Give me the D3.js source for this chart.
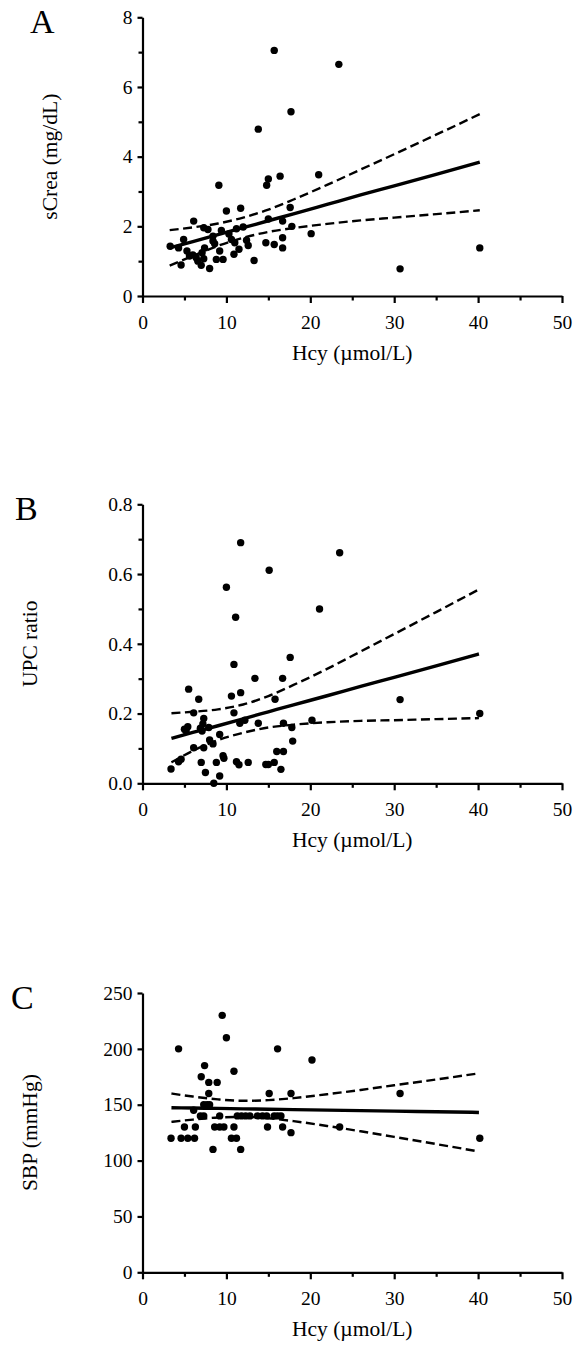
<!DOCTYPE html>
<html><head><meta charset="utf-8">
<script src="https://cdn.jsdelivr.net/npm/d3@7"></script>
<style>
body{margin:0;background:#fff}
svg{display:block}
text{font-family:"Liberation Serif","Times New Roman",serif;fill:#000}
</style>
</head><body>
<svg id="c" width="576" height="1345"></svg>
<script>
// ---------- shared x axis ----------
const xTicks = [0, 10, 20, 30, 40, 50];
const xMinorTicks = [5, 15, 25, 35, 45];
const xTitle = "Hcy (\u00b5mol/L)";

// ---------- Panel A: sCrea ----------
const hcyA = [15.7,23.4,17.7,13.8,9.1,15.0,14.8,16.4,21.0,10.0,11.7,17.6,6.1,7.3,7.8,15.0,16.7,17.8,20.1,11.2,12.0,9.4,3.3,4.3,4.9,8.4,10.6,11.0,12.6,14.7,15.7,16.7,16.7,5.3,5.6,6.4,7.1,7.3,6.6,7.0,8.0,4.6,8.8,9.6,9.2,10.9,13.3,30.7,40.2,8.4,7.4,11.5,6.0,8.6,10.3,12.4];
const scrA = [7.05,6.65,5.29,4.79,3.18,3.36,3.18,3.44,3.48,2.44,2.52,2.54,2.15,1.96,1.91,2.21,2.15,2.00,1.79,1.93,1.98,1.88,1.43,1.38,1.62,1.58,1.62,1.53,1.45,1.53,1.48,1.67,1.38,1.29,1.15,1.10,1.24,1.07,1.00,0.88,0.79,0.89,1.05,1.05,1.29,1.20,1.02,0.78,1.38,1.72,1.38,1.34,1.18,1.50,1.78,1.60];
const yTicksA = [0, 2, 4, 6, 8];
const yMinorA = [1, 3, 5, 7];
const bandXA = [3.24, 6, 9, 12, 15, 18, 22, 26, 30, 35, 40.2];
const fitA   = [1.38, 1.56, 1.76, 1.96, 2.16, 2.36, 2.63, 2.90, 3.16, 3.49, 3.84];
const upA    = [1.89, 1.97, 2.08, 2.25, 2.48, 2.77, 3.19, 3.63, 4.07, 4.63, 5.22];
const loA    = [0.87, 1.15, 1.44, 1.67, 1.84, 1.95, 2.07, 2.17, 2.25, 2.35, 2.46];

// ---------- Panel B: UPC ratio ----------
const hcyB = [11.7,23.5,15.1,10.0,11.1,21.1,10.9,17.6,13.4,16.7,5.5,6.7,10.6,11.7,15.8,6.1,10.9,7.3,5.0,5.4,6.9,7.9,7.2,11.6,12.2,13.8,16.8,17.8,20.2,8.0,8.4,9.2,6.1,7.3,9.6,9.7,4.6,4.3,3.4,7.0,7.5,8.8,8.5,9.2,11.2,11.5,12.6,14.7,15.0,15.7,16.0,16.8,16.5,17.9,30.7,40.2,7.1,5.2];
const upcB = [0.690,0.661,0.611,0.562,0.476,0.500,0.341,0.361,0.301,0.301,0.270,0.241,0.250,0.260,0.241,0.202,0.202,0.186,0.155,0.162,0.158,0.160,0.170,0.172,0.181,0.172,0.172,0.160,0.181,0.124,0.113,0.140,0.102,0.102,0.079,0.072,0.069,0.062,0.041,0.060,0.031,0.060,0.000,0.021,0.062,0.053,0.060,0.054,0.054,0.060,0.091,0.091,0.040,0.121,0.240,0.200,0.150,0.150];
const yTicksB = [0, 0.2, 0.4, 0.6, 0.8];
const yMinorB = [0.1, 0.3, 0.5, 0.7];
const bandXB = [3.45, 6, 9, 12, 15, 18, 22, 26, 30, 35, 40.1];
const fitB   = [0.129, 0.146, 0.165, 0.185, 0.205, 0.225, 0.251, 0.278, 0.304, 0.337, 0.371];
const upB    = [0.201, 0.205, 0.212, 0.226, 0.250, 0.282, 0.328, 0.378, 0.428, 0.491, 0.556];
const loB    = [0.060, 0.093, 0.124, 0.145, 0.160, 0.168, 0.175, 0.179, 0.181, 0.184, 0.187];

// ---------- Panel C: SBP ----------
const hcyC = [9.5,10.0,4.3,16.1,20.2,7.4,10.9,7.0,7.9,8.9,7.9,15.1,17.7,30.7,7.3,7.7,8.0,6.1,6.9,7.3,9.2,11.3,11.8,12.3,12.8,13.7,14.3,14.8,15.7,16.1,16.5,5.0,6.3,8.6,9.2,9.7,10.9,14.9,16.7,23.5,17.7,3.4,4.6,5.4,6.2,10.6,11.2,40.2,8.4,11.7];
const sbpC = [230,210,200,200,190,185,180,175,170,170,160,160,160,160,150,150,150,145,140,140,140,140,140,140,140,140,140,140,140,140,140,130,130,130,130,130,130,130,130,130,125,120,120,120,120,120,120,120,110,110];
const yTicksC = [0, 50, 100, 150, 200, 250];
const yMinorC = [];
const bandXC = [3.45, 6, 9, 12, 15, 18, 22, 26, 30, 35, 40.1];
const fitC   = [147.3, 147.0, 146.7, 146.3, 146.0, 145.6, 145.2, 144.7, 144.3, 143.7, 143.1];
const upC    = [160.0, 157.3, 154.8, 153.5, 154.1, 155.9, 159.4, 163.2, 167.4, 172.6, 178.1];
const loC    = [134.6, 136.7, 138.6, 139.1, 137.9, 135.3, 131.0, 126.2, 121.2, 114.8, 108.1];

// ---------- layout ----------
const svg = d3.select("#c");
const X0 = 142.5, X1 = 562;
const FONT = "Liberation Serif, Times New Roman, serif";

const panels = [
  {letter:"A", ylab:"sCrea (mg/dL)", xs:hcyA, ys:scrA, ymax:8, ticks:yTicksA, minor:yMinorA, fmt:d3.format("d"),
   bx:bandXA, fit:fitA, up:upA, lo:loA, top:17.3, bottom:296, letterX:30, ylabX:57},
  {letter:"B", ylab:"UPC ratio", xs:hcyB, ys:upcB, ymax:0.8, ticks:yTicksB, minor:yMinorB, fmt:d3.format(".1f"),
   bx:bandXB, fit:fitB, up:upB, lo:loB, top:504.3, bottom:783.3, letterX:15, ylabX:37},
  {letter:"C", ylab:"SBP (mmHg)", xs:hcyC, ys:sbpC, ymax:250, ticks:yTicksC, minor:yMinorC, fmt:d3.format("d"),
   bx:bandXC, fit:fitC, up:upC, lo:loC, top:993, bottom:1272.3, letterX:11, ylabX:37}
];

panels.forEach(p => {
  const x = d3.scaleLinear().domain([0, 50]).range([X0, X1]);
  const y = d3.scaleLinear().domain([0, p.ymax]).range([p.bottom, p.top]);
  const g = svg.append("g");

  // x axis
  const xa = g.append("g").attr("transform", `translate(0,${p.bottom})`)
    .call(d3.axisBottom(x).tickValues(xTicks).tickSize(7).tickSizeOuter(0).tickPadding(12).tickFormat(d3.format("d")));
  g.append("g").attr("transform", `translate(0,${p.bottom})`)
    .call(d3.axisBottom(x).tickValues(xMinorTicks).tickSize(4.5).tickSizeOuter(0).tickFormat(""))
    .select(".domain").remove();

  // y axis
  g.append("g").attr("transform", `translate(${X0},0)`)
    .call(d3.axisLeft(y).tickValues(p.ticks).tickSize(5).tickSizeOuter(0).tickPadding(5).tickFormat(p.fmt));
  if (p.minor.length) {
    g.append("g").attr("transform", `translate(${X0},0)`)
      .call(d3.axisLeft(y).tickValues(p.minor).tickSize(4).tickSizeOuter(0).tickFormat(""))
      .select(".domain").remove();
  }

  g.selectAll(".domain").attr("stroke", "#000").attr("stroke-width", 2.2);
  g.selectAll(".tick line").attr("stroke", "#000").attr("stroke-width", 2.2);
  g.selectAll(".tick text").attr("font-family", FONT).attr("font-size", 19.5).attr("fill", "#000");
  xa.selectAll(".tick text").attr("dy", "0.71em");

  // regression lines & confidence bands
  const pts = (arr) => p.bx.map((v, i) => [x(v), y(arr[i])]);
  const line = d3.line().curve(d3.curveMonotoneX);
  g.append("path").attr("d", line(pts(p.up))).attr("fill", "none").attr("stroke", "#000")
    .attr("stroke-width", 2.4).attr("stroke-dasharray", "9,4.5");
  g.append("path").attr("d", line(pts(p.lo))).attr("fill", "none").attr("stroke", "#000")
    .attr("stroke-width", 2.4).attr("stroke-dasharray", "9,4.5");
  g.append("path").attr("d", line(pts(p.fit))).attr("fill", "none").attr("stroke", "#000")
    .attr("stroke-width", 3.4);

  // points
  g.append("g").selectAll("circle").data(p.xs).join("circle")
    .attr("cx", d => x(d)).attr("cy", (d, i) => y(p.ys[i])).attr("r", 3.7).attr("fill", "#000");

  // titles
  g.append("text").attr("x", p.letterX).attr("y", p.top + 16).attr("font-family", FONT)
    .attr("font-size", 34).text(p.letter);
  g.append("text").attr("transform", `translate(${p.ylabX},${(p.top + p.bottom) / 2}) rotate(-90)`)
    .attr("text-anchor", "middle").attr("font-family", FONT).attr("font-size", 21.5).text(p.ylab);
  g.append("text").attr("x", (X0 + X1) / 2).attr("y", p.bottom + 64).attr("font-family", FONT)
    .attr("text-anchor", "middle").attr("font-size", 21.5).text(xTitle);
});
</script>
</body></html>
